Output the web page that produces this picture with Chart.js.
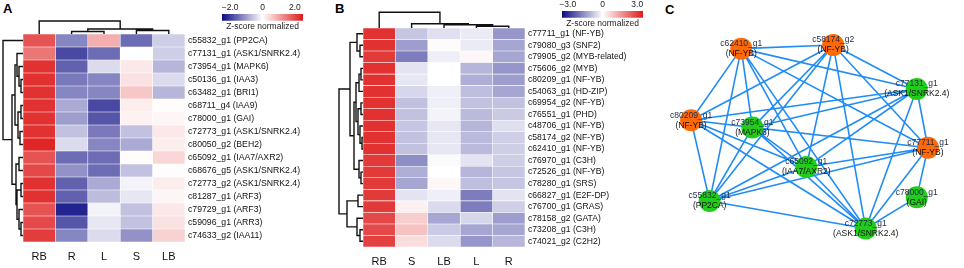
<!DOCTYPE html>
<html><head><meta charset="utf-8">
<script src="https://cdn.jsdelivr.net/npm/chart.js@4"></script>
<style>
html,body{margin:0;padding:0;background:#fff;}
#wrap{position:relative;width:964px;height:268px;overflow:hidden;font-family:Arial,"Liberation Sans",sans-serif;}
canvas{position:absolute;}
.pl{position:absolute;font-weight:bold;font-size:13px;line-height:13px;color:#000;font-family:Arial,"Liberation Sans",sans-serif;}
</style></head><body>
<div id="wrap">
<div class="pl" style="left:3px;top:2px">A</div>
<div class="pl" style="left:335px;top:2px">B</div>
<div class="pl" style="left:665px;top:3px">C</div>
<canvas id="hmA" width="330" height="268" style="left:0;top:0"></canvas>
<canvas id="cbA" width="125" height="33" style="left:200px;top:0"></canvas>
<canvas id="hmB" width="312" height="268" style="left:333px;top:0"></canvas>
<canvas id="cbB" width="125" height="30" style="left:540px;top:0"></canvas>
<canvas id="net" width="309" height="268" style="left:655px;top:0"></canvas>
</div>
<script>
// ---------- Panel A data ----------
const colsA = ['RB','R','L','S','LB'];
const rowsA = ['c55832_g1 (PP2CA)','c77131_g1 (ASK1/SNRK2.4)','c73954_g1 (MAPK6)','c50136_g1 (IAA3)','c63482_g1 (BRI1)','c68711_g4 (IAA9)','c78000_g1 (GAI)','c72773_g1 (ASK1/SNRK2.4)','c80050_g2 (BEH2)','c65092_g1 (IAA7/AXR2)','c68676_g5 (ASK1/SNRK2.4)','c72773_g2 (ASK1/SNRK2.4)','c81287_g1 (ARF3)','c79729_g1 (ARF3)','c59096_g1 (ARR3)','c74633_g2 (IAA11)'];
const aRB = [1.5,1.2,1.8,1.8,1.8,1.8,1.8,1.8,1.9,1.5,1.6,1.8,1.8,1.5,1.6,1.7];
const aR  = [-1.0,-1.5,-1.3,-1.1,-1.0,-0.7,-0.8,-0.5,-0.3,-1.2,-0.9,-1.3,-1.3,-1.8,-1.4,-1.0];
const aL  = [0.7,-1.2,-0.3,-1.0,-1.0,-1.5,-1.4,-1.1,-1.0,-1.2,-1.2,-0.7,-0.55,-0.1,-0.2,-0.3];
const aS  = [-1.2,0.0,0.2,0.25,0.5,0.15,0.12,-0.5,-0.7,0.03,-0.5,-0.1,-0.2,-0.5,-0.5,-0.9];
const aLB = [-0.4,-0.4,-0.6,-0.3,-0.6,0.03,0.08,0.2,0.15,0.35,0.03,0.15,0.08,0.2,0.25,0.4];
const zmaxA = 2.0;
const ticksA = [-2, 0, 2];
// dendrograms: [childA, childB, height]; leaves are 0..n-1, merges numbered after
const rowTreeA = [[3,4,2],[2,16,4],[1,17,6],[5,6,2],[7,8,3],[19,20,5],[18,21,8],[9,10,4],[11,12,2],[14,15,2],[13,25,4],[24,26,6],[23,27,7],[22,28,11],[0,29,20]];
const colTreeA = [[1,2,2.5],[3,4,3.5],[5,6,5],[0,7,13]];

// ---------- Panel B data ----------
const colsB = ['RB','S','LB','L','R'];
const rowsB = ['c77711_g1 (NF-YB)','c79080_g3 (SNF2)','c79905_g2 (MYB-related)','c75606_g2 (MYB)','c80209_g1 (NF-YB)','c54063_g1 (HD-ZIP)','c69954_g2 (NF-YB)','c76551_g1 (PHD)','c48706_g1 (NF-YB)','c58174_g2 (NF-YB)','c62410_g1 (NF-YB)','c76970_g1 (C3H)','c72526_g1 (NF-YB)','c78280_g1 (SRS)','c66827_g1 (E2F-DP)','c76700_g1 (GRAS)','c78158_g2 (GATA)','c73208_g1 (C3H)','c74021_g2 (C2H2)'];
const bRB = [2.7,2.7,2.6,2.7,2.7,2.7,2.7,2.7,2.7,2.7,2.7,2.6,2.6,2.6,2.6,2.6,2.4,2.4,2.5];
const bS  = [-0.7,-1.2,-1.6,-0.35,-0.3,-0.5,-0.75,-0.75,-0.7,-0.75,-0.75,-1.4,-1.0,-1.1,-0.35,0.2,0.65,0.8,0.45];
const bLB = [-0.4,0.05,-0.2,0.0,0.0,-0.2,-0.2,-0.15,-0.3,-0.3,-0.3,-0.05,0.0,0.1,-0.2,-0.45,-1.1,-0.65,-0.45];
const bL  = [-0.25,-0.25,0.1,-0.9,-1.0,-0.8,-0.75,-0.85,-0.9,-0.85,-0.85,-0.35,-0.9,-0.8,-1.6,-1.6,-0.5,-1.1,-1.3];
const bR  = [-1.3,-1.1,-1.1,-1.3,-1.2,-1.1,-0.75,-0.65,-0.4,-0.6,-0.6,-0.6,-0.7,-0.7,-0.35,-0.6,-1.2,-1.1,-0.9];
const zmaxB = 3.0;
const ticksB = [-3, 0, 3];
const rowTreeB = [[1,2,3],[0,19,6],[3,4,2],[21,5,4],[6,7,2],[9,10,1],[8,24,3],[23,25,5],[22,26,7],[12,13,2],[11,28,4],[27,29,9],[20,30,13],[14,15,5],[17,18,3],[16,33,6],[32,34,16],[31,35,24]];
const colTreeB = [[3,4,1.7],[2,5,3.3],[1,6,4.3],[0,7,15.7]];

// ---------- Panel C data ----------
const nodeIds   = ['c62410_g1','c58174_g2','c77131_g1','c80209_g1','c73954_g1','c77711_g1','c65092_g1','c55832_g1','c78000_g1','c72773_g1'];
const nodeGenes = ['NF-YB','NF-YB','ASK1/SNRK2.4','NF-YB','MAPK6','NF-YB','IAA7/AXR2','PP2CA','GAI','ASK1/SNRK2.4'];
const nodeGroup = ['TF','TF','HS','TF','HS','TF','HS','HS','HS','HS'];
const nodeX = [81,180,270,27,93,282,151,47,270,215];
const nodeY = [41,37,85,119,127,149,170,207,203,237];
const edges = [];
for (let i = 0; i < 10; i++) for (let j = i + 1; j < 10; j++) if (i !== 8 && j !== 8) edges.push([i, j]);
edges.push([5, 8], [8, 9]);

// ---------- helpers ----------
const FONT = 'Arial, "Liberation Sans", sans-serif';
const LO = [12,12,132], HI = [222,26,26];
function zColor(z, zmax) {
  const t = Math.max(-1, Math.min(1, z / zmax));
  const c = t < 0 ? LO : HI, a = Math.abs(t);
  const m = k => Math.round(255 + (c[k] - 255) * a);
  return 'rgb(' + m(0) + ',' + m(1) + ',' + m(2) + ')';
}
function dendro(nLeaves, merges, colWise) {
  const pos = [], ht = [], pts = [];
  for (let i = 0; i < nLeaves; i++) { pos.push(i + 0.5); ht.push(0); }
  merges.forEach(([a, b, h]) => {
    [[ht[a], pos[a]], [h, pos[a]], [h, pos[b]], [ht[b], pos[b]]].forEach(([hh, pp]) =>
      pts.push(colWise ? {x: pp, y: hh} : {x: hh, y: pp}));
    pts.push({x: null, y: null});
    pos.push((pos[a] + pos[b]) / 2); ht.push(h);
  });
  return pts;
}
function heatmap(id, cfg) {
  const {rows, cols, zs, zmax, rowTree, colTree, L, T, W, H, rowFont, colPad} = cfg;
  const cv = document.getElementById(id);
  const CW = cv.width, CH = cv.height;
  const lineDs = (data, xid, yid) => ({type: 'line', indexAxis: 'x', xAxisID: xid, yAxisID: yid, data,
    borderColor: '#111', borderWidth: 1.4, pointRadius: 0, fill: false, spanGaps: false, clip: false, tension: 0});
  new Chart(cv, {
    type: 'bar',
    data: {
      labels: rows,
      datasets: [
        ...cols.map((c, ci) => ({
          type: 'bar', label: c, indexAxis: 'y', xAxisID: 'x', yAxisID: 'y', stack: 's', grouped: false,
          data: rows.map(() => 1),
          backgroundColor: zs[ci].map(v => zColor(v, zmax)),
          borderColor: 'rgba(255,255,255,0.45)', borderWidth: 0.6, borderSkipped: false,
          barPercentage: 1, categoryPercentage: 1
        })),
        lineDs(dendro(rows.length, rowTree, false), 'xr', 'yr'),
        lineDs(dendro(cols.length, colTree, true), 'xc', 'yc')
      ]
    },
    options: {
      indexAxis: 'y',
      responsive: false, animation: false, events: [],
      layout: {padding: {left: L, top: T, right: 0, bottom: 0}},
      plugins: {legend: {display: false}, tooltip: {enabled: false}, title: {display: false}},
      scales: {
        x: {type: 'linear', stacked: true, min: 0, max: cols.length, display: false, offset: false, grace: 0},
        y: {type: 'category', stacked: true, position: 'right', labels: rows, offset: true,
            grid: {display: false, drawTicks: false}, border: {display: false},
            ticks: {padding: 3, color: '#111', autoSkip: false, font: {family: FONT, size: rowFont}},
            afterFit(s) { s.width = CW - L - W; }},
        xb: {type: 'category', position: 'bottom', labels: cols, offset: true,
            grid: {display: false, drawTicks: false}, border: {display: false},
            ticks: {padding: colPad, color: '#111', font: {family: FONT, size: 11}},
            afterFit(s) { s.height = CH - T - H; }},
        xr: {type: 'linear', display: false, min: -W, max: 0, reverse: true, offset: false},
        yr: {type: 'linear', display: false, min: 0, max: rows.length, reverse: true, offset: false},
        xc: {type: 'linear', display: false, min: 0, max: cols.length, offset: false},
        yc: {type: 'linear', display: false, min: -H, max: 0, offset: false}
      }
    }
  });
}
function colorbar(id, range, tickVals, padL, padR, topH) {
  const cv = document.getElementById(id);
  new Chart(cv, {
    type: 'bar',
    data: {labels: [''], datasets: [{
      data: [[-range, range]], indexAxis: 'y', borderWidth: 0, barPercentage: 1, categoryPercentage: 1,
      backgroundColor: ctx => {
        const ca = ctx.chart.chartArea; if (!ca) return '#fff';
        const g = ctx.chart.ctx.createLinearGradient(ca.left, 0, ca.right, 0);
        g.addColorStop(0, 'rgb(' + LO.join(',') + ')'); g.addColorStop(0.5, '#fff'); g.addColorStop(1, 'rgb(' + HI.join(',') + ')');
        return g;
      }
    }]},
    options: {
      indexAxis: 'y', responsive: false, animation: false, events: [],
      layout: {padding: {left: padL, right: padR, top: 0, bottom: 1}},
      plugins: {legend: {display: false}, tooltip: {enabled: false},
        title: {display: true, position: 'bottom', text: 'Z-score normalized', color: '#222',
                font: {family: FONT, size: 8.5, weight: 'normal'}, padding: {top: 1, bottom: 0}}},
      scales: {
        x: {type: 'linear', position: 'top', min: -range, max: range, offset: false,
            afterBuildTicks(s) { s.ticks = tickVals.map(v => ({value: v})); },
            grid: {display: false, drawTicks: false}, border: {display: false},
            ticks: {padding: 1, color: '#222', font: {family: FONT, size: 8.5},
                    callback: v => v === 0 ? '0' : (v < 0 ? '\u2212' : '') + Math.abs(v).toFixed(1)},
            afterFit(s) { s.height = topH; }},
        y: {type: 'category', display: false}
      }
    }
  });
}

heatmap('hmA', {rows: rowsA, cols: colsA, zs: [aRB, aR, aL, aS, aLB], zmax: zmaxA,
  rowTree: rowTreeA, colTree: colTreeA, L: 23, T: 34, W: 162, H: 208, rowFont: 8.7, colPad: 8});
heatmap('hmB', {rows: rowsB, cols: colsB, zs: [bRB, bS, bLB, bL, bR], zmax: zmaxB,
  rowTree: rowTreeB, colTree: colTreeB, L: 30, T: 28, W: 162, H: 219, rowFont: 8.6, colPad: 8});
colorbar('cbA', 2.5, ticksA, 22, 22, 14);
colorbar('cbB', 3.5, ticksB, 22, 22, 11);

// ---------- Panel C network ----------
const nodeLabels = {
  id: 'nodeLabels',
  afterDatasetsDraw(chart) {
    const {ctx, scales: {x, y}} = chart;
    ctx.save();
    ctx.textAlign = 'center'; ctx.textBaseline = 'middle';
    ctx.font = '8.5px ' + FONT;
    nodeIds.forEach((n, i) => {
      const px = x.getPixelForValue(nodeX[i]), py = y.getPixelForValue(nodeY[i]);
      ctx.fillStyle = '#1e2a48'; ctx.fillText(n, px, py - 5);
      ctx.fillStyle = '#111'; ctx.fillText('(' + nodeGenes[i] + ')', px, py + 5);
    });
    ctx.restore();
  }
};
new Chart(document.getElementById('net'), {
  type: 'line',
  data: {datasets: [
    {type: 'scatter', order: 0, data: nodeX.map((v, i) => ({x: v, y: nodeY[i]})),
     pointRadius: 11, pointBorderWidth: 0,
     pointBackgroundColor: nodeGroup.map(g => g === 'TF' ? '#ff6a06' : '#22cc1a'), showLine: false, clip: false},
    {type: 'line', order: 1, data: edges.flatMap(([a, b]) => [{x: nodeX[a], y: nodeY[a]}, {x: nodeX[b], y: nodeY[b]}, {x: null, y: null}]),
     borderColor: 'rgb(34,140,245)', borderWidth: 1.6, pointRadius: 0, spanGaps: false, fill: false, clip: false, tension: 0}
  ]},
  options: {
    responsive: false, animation: false, events: [],
    layout: {padding: 0},
    plugins: {legend: {display: false}, tooltip: {enabled: false}},
    scales: {
      x: {type: 'linear', display: false, min: 0, max: 309, offset: false},
      y: {type: 'linear', display: false, min: 0, max: 268, reverse: true, offset: false}
    }
  },
  plugins: [nodeLabels]
});
</script>
</body></html>
